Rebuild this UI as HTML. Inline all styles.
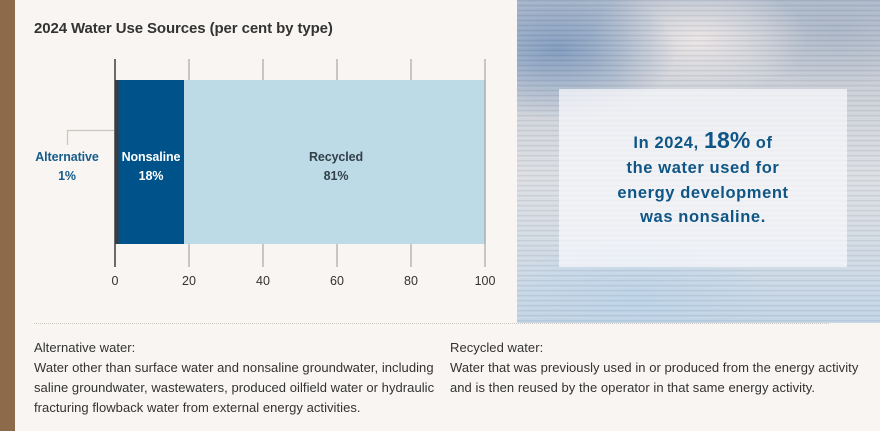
<!DOCTYPE html>
<html><head><meta charset="utf-8"><style>
html,body{margin:0;padding:0;}
body{width:880px;height:431px;position:relative;overflow:hidden;background:#f8f5f2;font-family:"Segoe UI","Liberation Sans",sans-serif;}
.brown{position:absolute;left:0;top:0;width:15px;height:431px;background:#8c6a4a;}
.title{position:absolute;left:34px;top:20px;font-size:15px;font-weight:bold;color:#333;letter-spacing:-0.1px;white-space:nowrap;}
.photo{position:absolute;left:517px;top:0;width:363px;height:323px;overflow:hidden;
background:
 radial-gradient(ellipse 120px 70px at 40px 50px, rgba(100,135,180,0.7), rgba(100,135,180,0) 100%),
 radial-gradient(ellipse 110px 60px at 180px 40px, rgba(240,232,230,0.9), rgba(240,232,230,0) 100%),
 radial-gradient(ellipse 100px 60px at 320px 30px, rgba(160,172,190,0.55), rgba(160,172,190,0) 100%),
 radial-gradient(ellipse 140px 60px at 120px 300px, rgba(185,210,232,0.8), rgba(185,210,232,0) 100%),
 linear-gradient(180deg,#b0bccc 0%,#cdd1d8 30%,#dcdee2 55%,#cdd9e5 85%,#c2d4e4 100%);}
.streaks{position:absolute;left:0;top:0;width:363px;height:323px;
background:repeating-linear-gradient(180deg,rgba(70,90,120,0.10) 0px,rgba(70,90,120,0.10) 1px,rgba(255,255,255,0.10) 2px,rgba(255,255,255,0) 5px);}
.box{position:absolute;left:42px;top:89px;width:288px;height:178px;background:rgba(250,250,252,0.72);}
.boxtxt{position:absolute;left:0;top:39px;width:288px;text-align:center;color:#0f5585;font-weight:bold;font-size:16.5px;line-height:24.8px;letter-spacing:0.6px;}
.boxtxt .big{font-size:23px;letter-spacing:0.2px;}
.dots{position:absolute;left:34px;top:323px;width:795px;height:0;border-top:1px dotted #cfcac4;}
.foot{position:absolute;top:338px;font-size:13px;line-height:20px;color:#333;letter-spacing:0.05px;white-space:nowrap;}
.axlbl{position:absolute;top:274px;font-size:12.5px;color:#333;width:40px;text-align:center;}
.lbl{position:absolute;text-align:center;font-weight:bold;font-size:12.5px;line-height:19px;letter-spacing:-0.1px;}
</style></head><body>
<div class="brown"></div>
<div class="title">2024 Water Use Sources (per cent by type)</div>

<svg style="position:absolute;left:0;top:0" width="517" height="320">
  <g stroke="#a8a5a2" stroke-width="1.2">
    <line x1="189" y1="59" x2="189" y2="267"/>
    <line x1="263" y1="59" x2="263" y2="267"/>
    <line x1="337" y1="59" x2="337" y2="267"/>
    <line x1="411" y1="59" x2="411" y2="267"/>
    <line x1="485" y1="59" x2="485" y2="267"/>
  </g>
  <rect x="118" y="80" width="66" height="164" fill="#00538a"/>
  <rect x="184" y="80" width="301" height="164" fill="#bcdbe6"/>
  <line x1="485" y1="80" x2="485" y2="244" stroke="#a8a5a2" stroke-width="1.2"/>
  <rect x="115" y="80" width="3.5" height="164" fill="#3a3d40"/>
  <line x1="115" y1="59" x2="115" y2="267" stroke="#3a3d40" stroke-width="1.5"/>
  <polyline points="114,130.5 67.5,130.5 67.5,145" fill="none" stroke="#c9c5c1" stroke-width="1.2"/>
</svg>

<div class="lbl" style="left:22px;top:148px;width:90px;color:#165d8c;">Alternative<br>1%</div>
<div class="lbl" style="left:111px;top:148px;width:80px;color:#ffffff;">Nonsaline<br>18%</div>
<div class="lbl" style="left:296px;top:148px;width:80px;color:#33404a;">Recycled<br>81%</div>

<div class="axlbl" style="left:95px;">0</div>
<div class="axlbl" style="left:169px;">20</div>
<div class="axlbl" style="left:243px;">40</div>
<div class="axlbl" style="left:317px;">60</div>
<div class="axlbl" style="left:391px;">80</div>
<div class="axlbl" style="left:465px;">100</div>

<div class="photo">
  <div class="streaks"></div>
  <div class="box">
    <div class="boxtxt">In 2024, <span class="big">18%</span> of<br>the water used for<br>energy development<br>was nonsaline.</div>
  </div>
</div>

<div class="dots"></div>

<div class="foot" style="left:34px;width:410px;">Alternative water:<br>Water other than surface water and nonsaline groundwater, including<br>saline groundwater, wastewaters, produced oilfield water or hydraulic<br>fracturing flowback water from external energy activities.</div>
<div class="foot" style="left:450px;width:425px;">Recycled water:<br>Water that was previously used in or produced from the energy activity<br>and is then reused by the operator in that same energy activity.</div>
</body></html>
